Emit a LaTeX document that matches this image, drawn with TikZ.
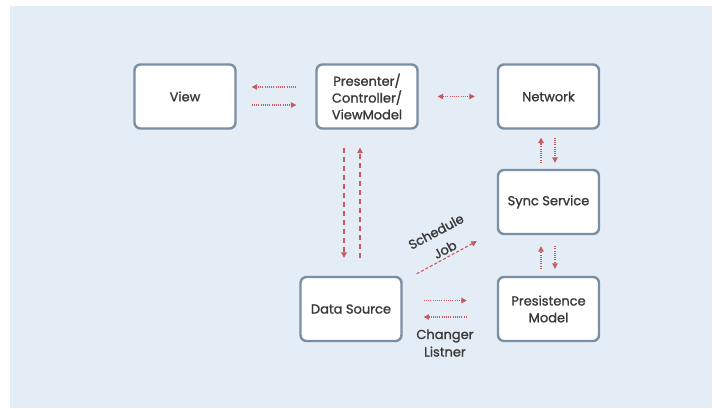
\documentclass[tikz,border=0pt]{standalone}
\usepackage{fontspec}
\setmainfont{Poppins}[FakeBold=1.2]
\usetikzlibrary{arrows.meta}
\definecolor{panel}{HTML}{E4ECF5}
\definecolor{boxline}{HTML}{7A8EA4}
\definecolor{flow}{HTML}{C65A60}
\definecolor{ink}{HTML}{383838}
\tikzset{
  box/.style={draw=boxline, line width=2.4pt, rounded corners=6pt, fill=white,
    minimum width=101pt, minimum height=64pt, align=center, text=ink,
    font=\fontsize{13}{16.8}\selectfont},
  lbl/.style={text=ink, align=center, font=\fontsize{13}{17.5}\selectfont},
  flowline/.style={draw=flow, line width=1.1pt, -{Triangle[length=5.5pt,width=5.5pt]}},
  dots/.style={flowline, dash pattern=on 1pt off 1.2pt},
  longdash/.style={flowline, dash pattern=on 5pt off 4pt},
  shortdash/.style={flowline, dash pattern=on 3pt off 2pt},
}
\begin{document}
\begin{tikzpicture}[x=1pt, y=-1pt]
  \useasboundingbox (0,0) rectangle (713,408);
  \fill[white] (0,0) rectangle (713,408);
  \fill[panel] (10,6) rectangle (712,408);

  % components
  \node[box] (view) at (185,96.5) {View};
  \node[box] (pres) at (367,96.5) {Presenter/\\Controller/\\ViewModel};
  \node[box] (net)  at (548.5,96.5) {Network};
  \node[box] (sync) at (548.5,202) {Sync Service};
  \node[box] (ds)   at (351,309) {Data Source};
  \node[box] (pm)   at (548.5,309) {Presistence\\Model};

  % view <-> presenter
  \draw[dots] ([xshift=-19pt,yshift=9.5pt]pres.west) -- ([xshift=15pt,yshift=9.5pt]view.east);
  \draw[dots] ([xshift=15pt,yshift=-8.5pt]view.east) -- ([xshift=-19pt,yshift=-8.5pt]pres.west);

  % presenter <-> network
  \draw[dots, {Triangle[length=5.5pt,width=5.5pt]}-{Triangle[length=5.5pt,width=5.5pt]}]
    ([xshift=19pt]pres.east) -- ([xshift=-22pt]net.west);

  % presenter <-> data source
  \draw[longdash] ([xshift=-23pt,yshift=-18pt]pres.south) -- ([xshift=-7pt,yshift=18pt]ds.north);
  \draw[longdash] ([xshift=9pt,yshift=18pt]ds.north) -- ([xshift=-7pt,yshift=-18pt]pres.south);

  % network <-> sync service
  \draw[dots] ([xshift=-7.5pt,yshift=6pt]sync.north) -- ([xshift=-7.5pt,yshift=-8pt]net.south);
  \draw[dots] ([xshift=6.5pt,yshift=-8pt]net.south) -- ([xshift=6.5pt,yshift=6pt]sync.north);

  % sync service <-> persistence model
  \draw[dots] ([xshift=-7.5pt,yshift=7pt]pm.north) -- ([xshift=-7.5pt,yshift=-11pt]sync.south);
  \draw[dots] ([xshift=6.5pt,yshift=-11pt]sync.south) -- ([xshift=6.5pt,yshift=7pt]pm.north);

  % data source -> sync service
  \draw[shortdash] ([xshift=14pt,yshift=2pt]ds.north east) -- ([xshift=-20pt,yshift=-6pt]sync.south west);
  \node[lbl, rotate=28] (sched) at (436,231.5) {Schedule};
  \node[lbl, rotate=28] (job) at (445,249.5) {Job};

  % data source <-> persistence model
  \draw[dots] ([xshift=21pt,yshift=8.5pt]ds.east) -- ([xshift=-30pt,yshift=8.5pt]pm.west);
  \draw[dots] ([xshift=-30pt,yshift=-8pt]pm.west) -- ([xshift=21pt,yshift=-8pt]ds.east);
  \node[lbl] (chg) at (445,343) {Changer\\Listner};
\end{tikzpicture}
\end{document}
